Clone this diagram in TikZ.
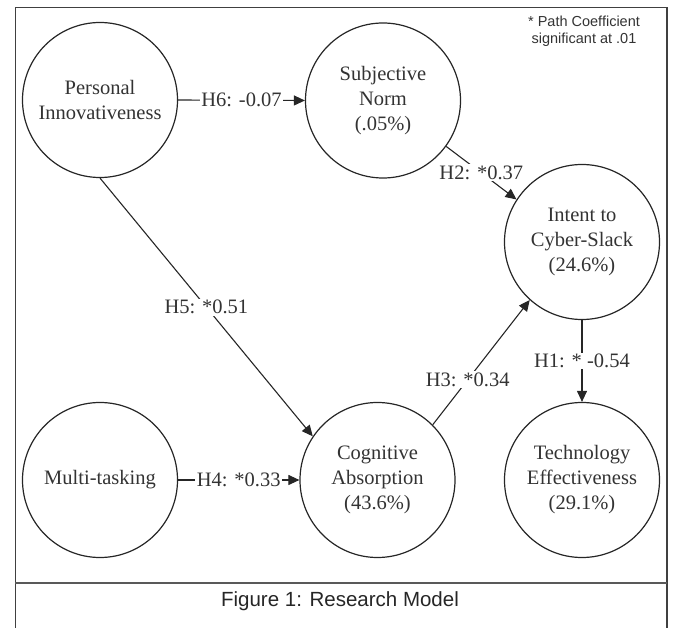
\documentclass[tikz,border=0pt]{standalone}
\usepackage{fontspec}
\setmainfont{Liberation Serif}
\newfontfamily\notefont{Liberation Sans}
\usetikzlibrary{arrows.meta}
\begin{document}
\begin{tikzpicture}[x=1pt,y=-1pt,
  latent/.style={circle,draw=black!85,line width=1.2pt,minimum size=155pt,inner sep=0pt,align=center,
    font=\fontsize{20.5}{25}\selectfont,text=black!80},
  conn/.style={draw=black!85,line width=1.1pt,-{Triangle[length=11pt,width=10pt]}},
  lbl/.style={fill=white,inner sep=1.5pt,font=\fontsize{20.5}{25}\selectfont,text=black!80},
  frameline/.style={draw=black!75,line width=1.8pt}]
\useasboundingbox (0,0) rectangle (673,628);
% frame
\coordinate (fbl) at (15.5,628);
\coordinate (ftl) at (15.5,7.5);
\coordinate (ftr) at (667,7.5);
\coordinate (fbr) at (667,628);
\draw[frameline] (fbl) -- (ftl) -- (ftr) -- (fbr);
\coordinate (dl) at (15,583);
\coordinate (dr) at (667,583);
\draw[frameline,draw=black!65] (dl) -- (dr);
% nodes
\node[latent] (PI) at (100,100) {Personal\\Innovativeness};
\node[latent] (SN) at (383,100.5) {Subjective\\Norm\\(.05\%)};
\node[latent] (IC) at (582,242) {Intent to\\Cyber-Slack\\(24.6\%)};
\node[latent] (MT) at (100,480) {Multi-tasking};
\node[latent] (CA) at (377.5,480) {Cognitive\\Absorption\\(43.6\%)};
\node[latent] (TE) at (582,480) {Technology\\Effectiveness\\(29.1\%)};
% connectors
\draw[conn] (PI.east) -- node[lbl] {H6: -0.07} (SN.west);
\draw[conn] (SN.-36) -- node[lbl] {H2: *0.37} (IC.147);
\draw[conn] (PI.south) -- node[lbl] {H5: *0.51} (CA.146);
\draw[conn] (CA.45) -- node[lbl,pos=0.36] {H3: *0.34} (IC.228);
\draw[conn] (IC.south) -- node[lbl] {H1: * -0.54} (TE.north);
\draw[conn] (MT.east) -- node[lbl] {H4: *0.33} (CA.west);
% note and caption
\node[align=center,font=\notefont\fontsize{14.5}{17}\selectfont,text=black!80] (note) at (584,31) {* Path Coefficient\\significant at .01};
\node[font=\notefont\fontsize{20.5}{24}\selectfont,text=black!85] (cap) at (340,601) {Figure 1: Research Model};
\end{tikzpicture}
\end{document}
